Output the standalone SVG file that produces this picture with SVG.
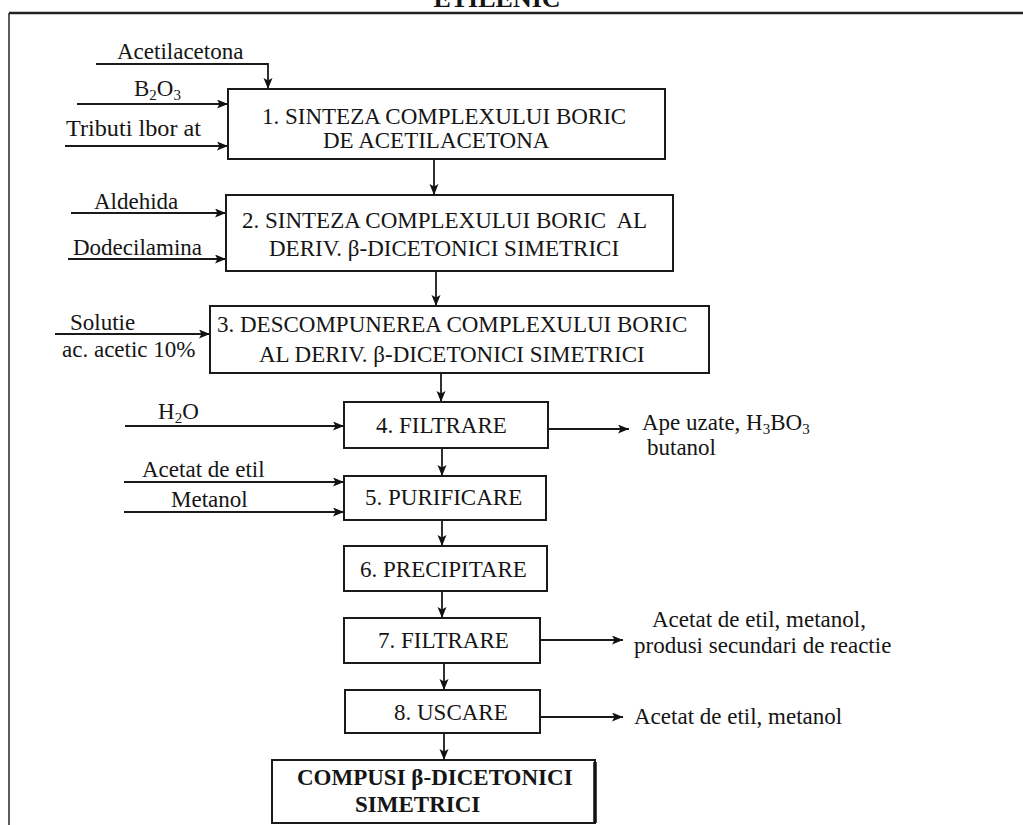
<svg xmlns="http://www.w3.org/2000/svg" width="1023" height="825" viewBox="0 0 1023 825">
<defs>
<marker id="ah" markerUnits="userSpaceOnUse" markerWidth="12" markerHeight="10" refX="11" refY="4.5" orient="auto">
<path d="M0,0 L11,4.5 L0,9 L2.5,4.5 Z" fill="#111"/>
</marker>
<style>
.t{font-family:"Liberation Serif","Times New Roman",serif;font-size:23px;fill:#151515}
.b{font-family:"Liberation Serif","Times New Roman",serif;font-size:23px;font-weight:bold;fill:#151515}
.box{fill:#fff;stroke:#1a1a1a;stroke-width:2}
.c{fill:none;stroke:#1a1a1a;stroke-width:1.8;marker-end:url(#ah)}
.sub{font-size:15px}
</style>
</defs>
<rect width="1023" height="825" fill="#fff"/>
<g id="frame">
<text class="b" x="497" y="7" text-anchor="middle" style="font-size:26px">ETILENIC</text>
<line x1="9" y1="13" x2="1023" y2="13" stroke="#222" stroke-width="2.5"/>
<line x1="9" y1="13" x2="9" y2="825" stroke="#333" stroke-width="1.6"/>
</g>
<g id="connectors">
<polyline class="c" points="96,64 268,64 268,89"/>
<line class="c" x1="77" y1="104" x2="228" y2="104"/>
<line class="c" x1="65" y1="146" x2="228" y2="146"/>
<line class="c" x1="71" y1="213" x2="226" y2="213"/>
<line class="c" x1="68" y1="259" x2="226" y2="259"/>
<line class="c" x1="55" y1="334" x2="210" y2="334"/>
<line class="c" x1="125" y1="426" x2="344" y2="426"/>
<line class="c" x1="548" y1="429" x2="629" y2="429"/>
<line class="c" x1="124" y1="482" x2="344" y2="482"/>
<line class="c" x1="124" y1="512" x2="344" y2="512"/>
<line class="c" x1="540" y1="640" x2="623" y2="640"/>
<line class="c" x1="540" y1="717" x2="623" y2="717"/>
<line class="c" x1="434" y1="159" x2="434" y2="195"/>
<line class="c" x1="436" y1="271" x2="436" y2="306"/>
<line class="c" x1="441" y1="373" x2="441" y2="402"/>
<line class="c" x1="442" y1="448" x2="442" y2="476"/>
<line class="c" x1="442" y1="520" x2="442" y2="546"/>
<line class="c" x1="442" y1="591" x2="442" y2="618"/>
<line class="c" x1="444" y1="663" x2="444" y2="690"/>
<line class="c" x1="444" y1="733" x2="444" y2="760"/>
</g>
<g id="labels">
<text class="t" x="117" y="59">Acetilacetona</text>
<text class="t" x="134" y="96">B<tspan class="sub" dy="4">2</tspan><tspan dy="-4">O</tspan><tspan class="sub" dy="4">3</tspan></text>
<text class="t" x="66" y="136" textLength="135" lengthAdjust="spacingAndGlyphs">Tributi lbor at</text>
<text class="t" x="94" y="209">Aldehida</text>
<text class="t" x="73" y="255">Dodecilamina</text>
<text class="t" x="70" y="330">Solutie</text>
<text class="t" x="62" y="357">ac. acetic 10%</text>
<text class="t" x="158" y="419">H<tspan class="sub" dy="4">2</tspan><tspan dy="-4">O</tspan></text>
<text class="t" x="642" y="430">Ape uzate, H<tspan class="sub" dy="4">3</tspan><tspan dy="-4">BO</tspan><tspan class="sub" dy="4">3</tspan></text>
<text class="t" x="647" y="455">butanol</text>
<text class="t" x="142" y="477">Acetat de etil</text>
<text class="t" x="171" y="507">Metanol</text>
<text class="t" x="652" y="627">Acetat de etil, metanol,</text>
<text class="t" x="634" y="653">produsi secundari de reactie</text>
<text class="t" x="634" y="724">Acetat de etil, metanol</text>
</g>
<g id="node1">
<rect class="box" x="228" y="89" width="437" height="70"/>
<text class="t" x="262" y="124">1. SINTEZA COMPLEXULUI BORIC</text>
<text class="t" x="323" y="148">DE ACETILACETONA</text>
</g>
<g id="node2">
<rect class="box" x="226" y="195" width="447" height="76"/>
<text class="t" x="242" y="228" xml:space="preserve">2. SINTEZA COMPLEXULUI BORIC  AL</text>
<text class="t" x="269" y="256">DERIV. β-DICETONICI SIMETRICI</text>
</g>
<g id="node3">
<rect class="box" x="210" y="306" width="499" height="67"/>
<text class="t" x="217" y="332">3. DESCOMPUNEREA COMPLEXULUI BORIC</text>
<text class="t" x="259" y="362">AL DERIV. β-DICETONICI SIMETRICI</text>
</g>
<g id="node4">
<rect class="box" x="344" y="402" width="204" height="46"/>
<text class="t" x="376" y="433">4. FILTRARE</text>
</g>
<g id="node5">
<rect class="box" x="344" y="476" width="202" height="44"/>
<text class="t" x="365" y="505">5. PURIFICARE</text>
</g>
<g id="node6">
<rect class="box" x="344" y="546" width="203" height="45"/>
<text class="t" x="360" y="577">6. PRECIPITARE</text>
</g>
<g id="node7">
<rect class="box" x="344" y="618" width="196" height="45"/>
<text class="t" x="378" y="648">7. FILTRARE</text>
</g>
<g id="node8">
<rect class="box" x="345" y="690" width="195" height="43"/>
<text class="t" x="394" y="720">8. USCARE</text>
</g>
<g id="node9">
<rect class="box" x="272" y="760" width="323" height="63"/>
<line x1="595" y1="762" x2="595" y2="823" stroke="#111" stroke-width="3.5"/>
<text class="b" x="297" y="785">COMPUSI β-DICETONICI</text>
<text class="b" x="355" y="812">SIMETRICI</text>
</g>
</svg>
